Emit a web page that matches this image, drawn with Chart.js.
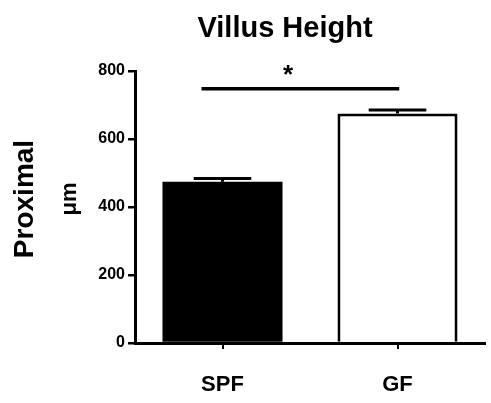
<!DOCTYPE html>
<html>
<head>
<meta charset="utf-8">
<script src="https://cdn.jsdelivr.net/npm/chart.js@4/dist/chart.umd.min.js"></script>
<style>
  body { margin: 0; background: #fff; }
  canvas { display: block; }
</style>
</head>
<body>
<canvas id="chart" width="491" height="403"></canvas>
<script>
// ── data ──
const categories = ['SPF', 'GF'];
const means = [474, 675];
const sems = [10, 10];
const barFills = ['#000000', '#ffffff'];
const barBorders = [0, 3];
const yTicks = [0, 200, 400, 600, 800];
// significance bar: value on y, span in category units, star position
const sigValue = 748;
const sigSpan = [-0.12, 1.01];
const sigStarAt = 0.375;
const sigLabel = '*';

const FONT = '"Liberation Sans", Arial, Helvetica, sans-serif';

// category index (may be fractional) -> pixel
function catPixel(scale, idx) {
  const a = scale.getPixelForValue(0), b = scale.getPixelForValue(1);
  return a + (b - a) * idx;
}

const errorBars = {
  id: 'errorBars',
  afterDatasetsDraw(chart) {
    const ctx = chart.ctx, y = chart.scales.y;
    const meta = chart.getDatasetMeta(0);
    ctx.save();
    ctx.strokeStyle = '#000';
    ctx.lineWidth = 3;
    meta.data.forEach((bar, i) => {
      const top = y.getPixelForValue(means[i]);
      const cap = y.getPixelForValue(means[i] + sems[i]);
      const half = bar.width * 0.24;
      ctx.beginPath();
      ctx.moveTo(bar.x, top);
      ctx.lineTo(bar.x, cap);
      ctx.moveTo(bar.x - half, cap);
      ctx.lineTo(bar.x + half, cap);
      ctx.stroke();
    });
    ctx.restore();
  }
};

const annotations = {
  id: 'annotations',
  afterDraw(chart) {
    const ctx = chart.ctx, x = chart.scales.x, y = chart.scales.y;
    ctx.save();
    ctx.fillStyle = '#000';
    ctx.strokeStyle = '#000';

    // significance line + star
    const sy = y.getPixelForValue(sigValue);
    ctx.lineWidth = 3.5;
    ctx.beginPath();
    ctx.moveTo(catPixel(x, sigSpan[0]), sy);
    ctx.lineTo(catPixel(x, sigSpan[1]), sy);
    ctx.stroke();
    ctx.font = 'bold 26px ' + FONT;
    ctx.textAlign = 'center';
    ctx.textBaseline = 'alphabetic';
    ctx.fillText(sigLabel, catPixel(x, sigStarAt), sy - 6);

    // title
    ctx.font = 'bold 29px ' + FONT;
    ctx.fillText('Villus Height', 285, 37);

    // rotated labels
    const midY = (chart.chartArea.top + chart.chartArea.bottom) / 2;
    ctx.save();
    ctx.translate(33, midY - 8);
    ctx.rotate(-Math.PI / 2);
    ctx.font = 'bold 28px ' + FONT;
    ctx.fillText('Proximal', 0, 0);
    ctx.restore();

    ctx.save();
    ctx.translate(76, midY - 8);
    ctx.rotate(-Math.PI / 2);
    ctx.font = 'bold 22px ' + FONT;
    ctx.fillText('μm', 0, 0);
    ctx.restore();

    ctx.restore();
  }
};

new Chart(document.getElementById('chart'), {
  type: 'bar',
  data: {
    labels: categories,
    datasets: [{
      data: means,
      backgroundColor: barFills,
      borderColor: '#000',
      borderWidth: barBorders,
      barPercentage: 0.686,
      categoryPercentage: 1.0
    }]
  },
  options: {
    responsive: false,
    animation: false,
    layout: { padding: { top: 71, right: 6, bottom: 0, left: 0 } },
    plugins: { legend: { display: false }, tooltip: { enabled: false }, title: { display: false } },
    scales: {
      x: {
        afterFit: s => { s.height = 60; },
        border: { display: true, color: '#000', width: 3 },
        grid: { offset: false, drawOnChartArea: false, drawTicks: true, tickLength: 6, lineWidth: 2, color: '#000' },
        ticks: { color: '#000', padding: 23, font: { family: FONT, size: 22, weight: 'bold' } }
      },
      y: {
        min: yTicks[0],
        max: yTicks[yTicks.length - 1],
        afterFit: s => { s.width = 135; },
        afterBuildTicks: s => { s.ticks = yTicks.map(v => ({ value: v })); },
        border: { display: true, color: '#000', width: 3 },
        grid: { drawOnChartArea: false, drawTicks: true, tickLength: 7, lineWidth: 2.5, color: '#000' },
        ticks: { color: '#000', padding: 3, font: { family: FONT, size: 16, weight: 'bold' } }
      }
    }
  },
  plugins: [errorBars, annotations]
});
</script>
</body>
</html>
